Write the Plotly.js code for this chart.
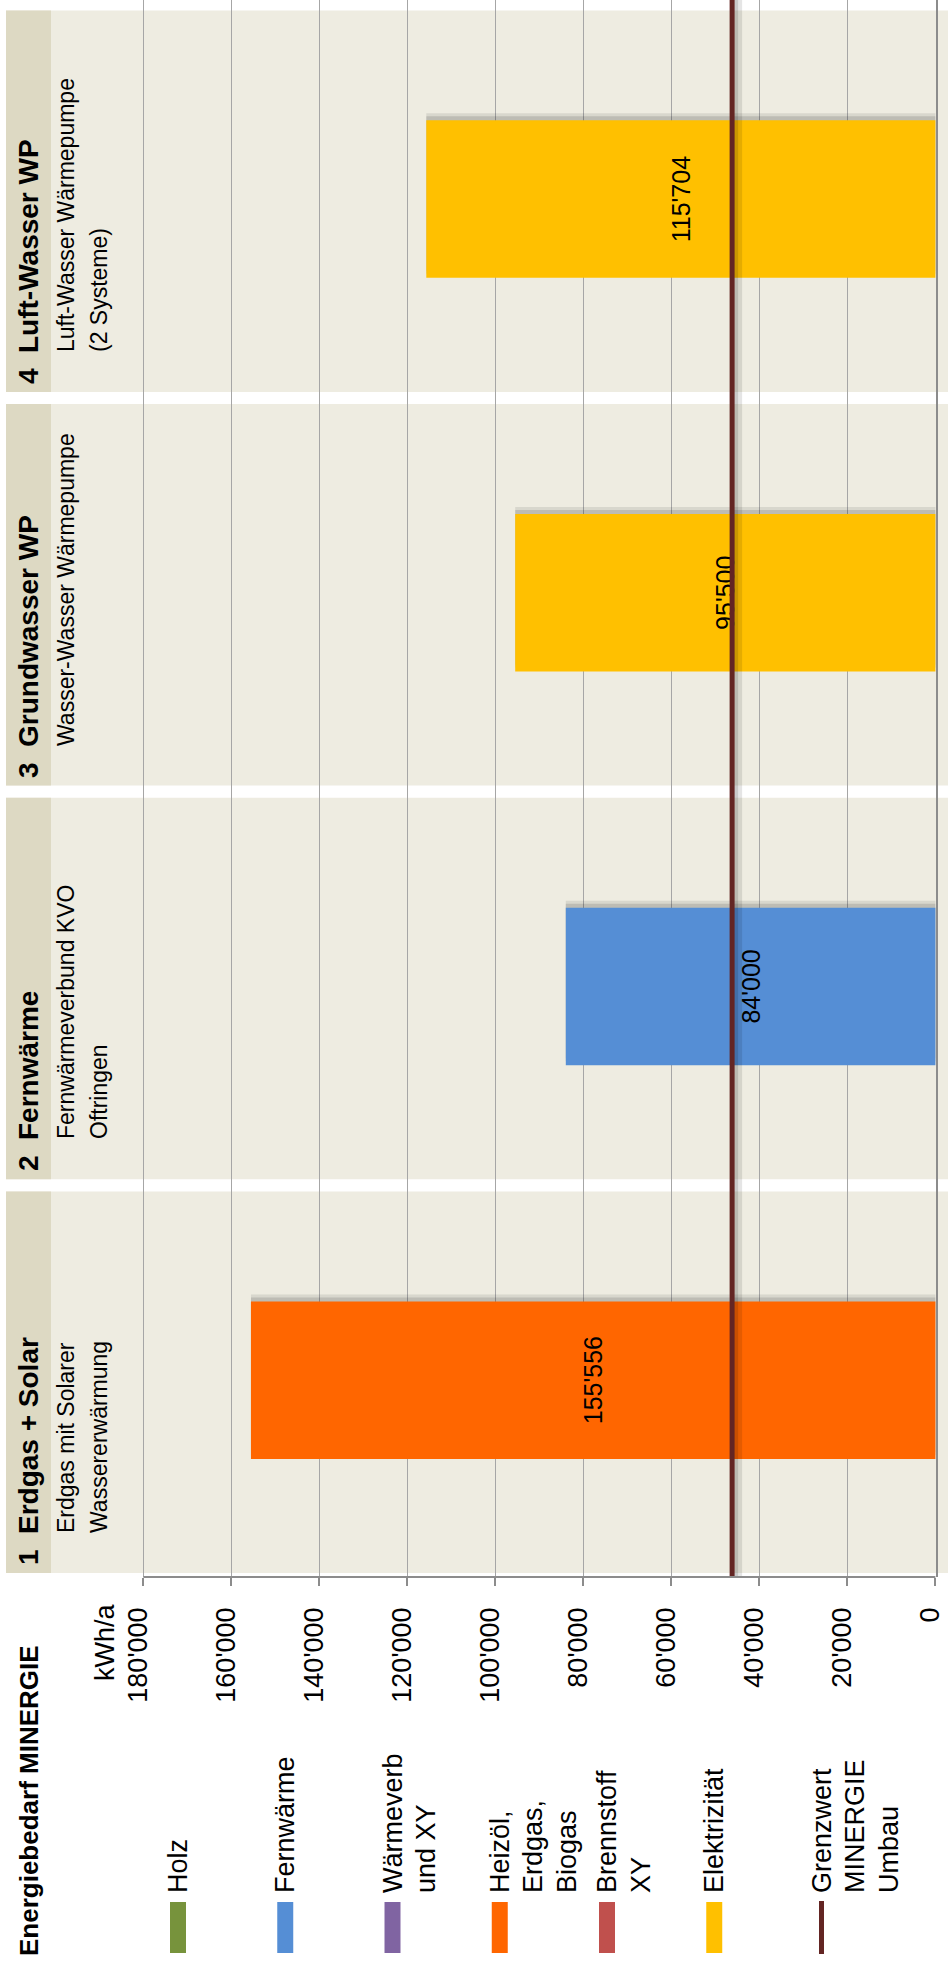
<!DOCTYPE html>
<html>
<head>
<meta charset="utf-8">
<script src="https://cdn.plot.ly/plotly-3.0.1.min.js"></script>
<style>
html,body{margin:0;padding:0;background:#fff;overflow:hidden;width:948px;height:1966px;}
#wrap{position:absolute;left:0;top:0;width:948px;height:1966px;overflow:hidden;background:#fff;}
#chart{position:absolute;left:0;top:0;width:1966px;height:948px;transform-origin:0 0;transform:translate(0,1966px) rotate(-90deg);}
</style>
</head>
<body>
<div id="wrap"><div id="chart"></div></div>
<script>
// ---- data ----
const categoryNumbers = ['1', '2', '3', '4'];
const categories = ['Erdgas + Solar', 'Fernwärme', 'Grundwasser WP', 'Luft-Wasser WP'];
const categoryDescriptions = [
  'Erdgas mit Solarer<br>Wassererwärmung',
  'Fernwärmeverbund KVO<br>Oftringen',
  'Wasser-Wasser Wärmepumpe',
  'Luft-Wasser Wärmepumpe<br>(2 Systeme)'
];
const energyValues = [155556, 84000, 95500, 115704];
const barColors = ['#FF6600', '#558ED5', '#FFC000', '#FFC000'];
const limitValue = 46200;
const limitName = 'Grenzwert<br>MINERGIE<br>Umbau';
const limitColor = '#632523';
const legendNames = ['Holz', 'Fernwärme', 'Wärmeverb<br>und XY', 'Heizöl,<br>Erdgas,<br>Biogas', 'Brennstoff<br>XY', 'Elektrizität'];
const legendColors = ['#77933C', '#558ED5', '#8064A2', '#FF6600', '#C0504D', '#FFC000'];
const tickValues = [0, 20000, 40000, 60000, 80000, 100000, 120000, 140000, 160000, 180000];
const chartTitle = 'Energiebedarf MINERGIE';
const unitLabel = 'kWh/a';

// ---- geometry (unrotated frame, then rotated by CSS) ----
const FIG_W = 1966, FIG_H = 948;
const M_L = 389, M_R = 0, M_T = 6, M_B = 12;
const PLOT_W = FIG_W - M_L - M_R, PLOT_H = FIG_H - M_T - M_B;
const CAT_PX = 393.7;
const Y_PX_PER_UNIT = 88 / 20000;
const xRange = [-0.5, -0.5 + PLOT_W / CAT_PX];
const yMin = -0.6 / Y_PX_PER_UNIT;
const yMax = yMin + PLOT_H / Y_PX_PER_UNIT;
const pX = xp => (xp - M_L) / PLOT_W;
const pY = yp => (FIG_H - M_B - yp) / PLOT_H;
const dX = px => px / CAT_PX;

const FONT = 'Liberation Sans, Arial, Helvetica, sans-serif';
const xIdx = categories.map((c, i) => i);

const traces = [];
// soft bar drop shadow (two layers)
[[7, 0.10], [4, 0.14]].forEach(([px, a]) => {
  traces.push({
    type: 'bar', x: xIdx, y: energyValues, width: 0.4, offset: -0.2 + dX(px),
    marker: {color: 'rgba(30,30,30,' + a + ')', line: {width: 0}},
    hoverinfo: 'skip', showlegend: false
  });
});
// main bars
traces.push({
  type: 'bar', x: xIdx, y: energyValues, width: 0.4, offset: -0.2,
  marker: {color: barColors, line: {width: 0}},
  text: energyValues, texttemplate: '%{y:,d}', textposition: 'inside',
  insidetextanchor: 'middle', textangle: 0, constraintext: 'none',
  textfont: {family: FONT, size: 25, color: '#000'},
  hoverinfo: 'skip', showlegend: false
});
// limit line soft shadow + line
const lineX = [xRange[0], xRange[1]];
[[6, 8, 0.10], [4, 4, 0.12]].forEach(([shift, w, a]) => {
  const ys = limitValue - shift / Y_PX_PER_UNIT;
  traces.push({
    type: 'scatter', mode: 'lines', x: lineX, y: [ys, ys],
    line: {color: 'rgba(0,0,0,' + a + ')', width: w}, hoverinfo: 'skip', showlegend: false
  });
});
traces.push({
  type: 'scatter', mode: 'lines', x: lineX, y: [limitValue, limitValue],
  line: {color: limitColor, width: 5}, hoverinfo: 'skip', showlegend: false
});

const shapes = [];
const annotations = [];
categories.forEach((c, i) => {
  const x0 = i - 0.5 + dX(4), x1 = i - 0.5 + dX(385.5);
  shapes.push({type: 'rect', xref: 'x', yref: 'paper', x0, x1, y0: pY(FIG_H), y1: 1,
    fillcolor: '#EEECE1', line: {width: 0}, layer: 'below'});
  shapes.push({type: 'rect', xref: 'x', yref: 'paper', x0, x1, y0: pY(51), y1: 1,
    fillcolor: '#DDD9C3', line: {width: 0}, layer: 'below'});
  annotations.push({xref: 'x', yref: 'paper', x: i - 0.5 + dX(10), y: pY(28), xanchor: 'left', yanchor: 'middle',
    text: '<b>' + categoryNumbers[i] + '</b>', showarrow: false, font: {family: FONT, size: 28, color: '#000'}});
  annotations.push({xref: 'x', yref: 'paper', x: i - 0.5 + dX(41), y: pY(28), xanchor: 'left', yanchor: 'middle',
    text: '<b>' + c + '</b>', showarrow: false, font: {family: FONT, size: 28, color: '#000'}});
  categoryDescriptions[i].split('<br>').forEach((line, k) => {
    annotations.push({xref: 'x', yref: 'paper', x: i - 0.5 + dX(42), y: pY(66 + k * 33), xanchor: 'left', yanchor: 'middle',
      align: 'left', text: line, showarrow: false, font: {family: FONT, size: 23, color: '#000'}});
  });
});
// value axis line (0 .. 180'000)
shapes.push({type: 'line', xref: 'paper', yref: 'y', x0: 0, x1: 0, y0: tickValues[0], y1: tickValues[tickValues.length - 1],
  line: {color: '#8C8C8C', width: 2}, layer: 'above'});

// manual legend
const LEG_Y0 = 178, LEG_STEP = 107.25, LINE_H = 33.5;
function legendText(label, cy) {
  label.split('<br>').forEach((line, k) => {
    annotations.push({xref: 'paper', yref: 'paper', x: pX(71), y: pY(cy + k * LINE_H), xanchor: 'left', yanchor: 'middle',
      align: 'left', text: line, showarrow: false, font: {family: FONT, size: 27, color: '#000'}});
  });
}
legendNames.forEach((n, i) => {
  const cy = LEG_Y0 + i * LEG_STEP;
  shapes.push({type: 'rect', xref: 'paper', yref: 'paper', x0: pX(13), x1: pX(64), y0: pY(cy + 8), y1: pY(cy - 8),
    fillcolor: legendColors[i], line: {width: 0}, layer: 'above'});
  legendText(n, cy);
});
{
  const cy = LEG_Y0 + legendNames.length * LEG_STEP;
  shapes.push({type: 'line', xref: 'paper', yref: 'paper', x0: pX(12), x1: pX(65), y0: pY(cy), y1: pY(cy),
    line: {color: limitColor, width: 5}, layer: 'above'});
  legendText(limitName, cy);
}
annotations.push({xref: 'paper', yref: 'paper', x: pX(8), y: pY(29), xanchor: 'left', yanchor: 'middle',
  text: '<b>' + chartTitle + '</b>', showarrow: false, font: {family: FONT, size: 26, color: '#000'}});
annotations.push({xref: 'paper', yref: 'paper', x: pX(365), y: pY(105), xanchor: 'right', yanchor: 'middle',
  text: unitLabel, showarrow: false, font: {family: FONT, size: 27, color: '#000'}});

const layout = {
  width: FIG_W, height: FIG_H,
  margin: {l: M_L, r: M_R, t: M_T, b: M_B, pad: 0},
  paper_bgcolor: '#FFFFFF', plot_bgcolor: '#FFFFFF',
  separators: ".'",
  font: {family: FONT, size: 27, color: '#000'},
  barmode: 'overlay', showlegend: false,
  xaxis: {type: 'linear', range: xRange, showgrid: false, zeroline: false, showticklabels: false,
    ticks: '', showline: true, linecolor: '#8C8C8C', linewidth: 2, fixedrange: true},
  yaxis: {range: [yMin, yMax], tickmode: 'array', tickvals: tickValues, tickformat: ',d',
    ticks: 'outside', ticklen: 8, tickwidth: 2, tickcolor: '#8C8C8C', ticklabelstandoff: 16,
    ticklabeloverflow: 'allow', ticklabelshift: -6,
    showgrid: true, gridcolor: '#A6A6A6', gridwidth: 1.5, zeroline: false, showline: false,
    tickfont: {family: FONT, size: 27, color: '#000'}, fixedrange: true},
  shapes, annotations
};
Plotly.newPlot('chart', traces, layout, {displayModeBar: false, staticPlot: true});
</script>
</body>
</html>
